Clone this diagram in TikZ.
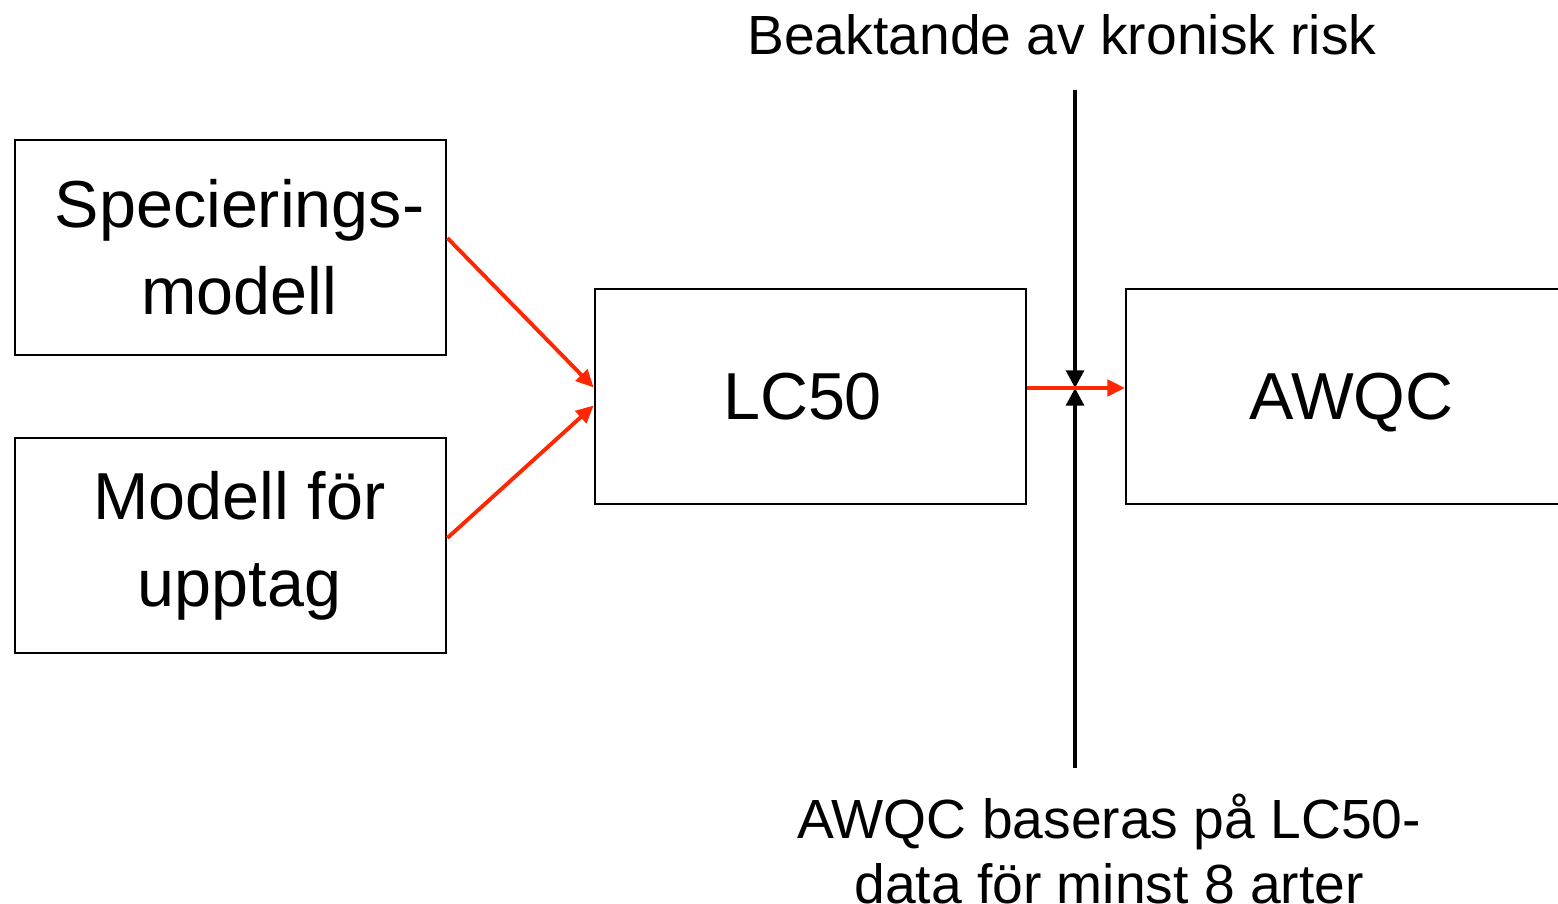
\documentclass[tikz,border=0pt]{standalone}
\usepackage{fontspec}
\setmainfont{Liberation Sans}
\usetikzlibrary{arrows.meta}
\definecolor{flowred}{RGB}{255,38,0}
\begin{document}
\begin{tikzpicture}[x=0.01cm,y=-0.01cm,
  box/.style={draw,line width=0.7pt,minimum width=4.31cm,minimum height=2.15cm,
    inner sep=0pt,align=center,font=\fontsize{18.9}{24.8}\selectfont},
  redarrow/.style={flowred,line width=1.1pt,-{Triangle[length=5pt,width=4.6pt]}},
  blackarrow/.style={black,line width=1.1pt,-{Triangle[length=5pt,width=5pt]}},
  note/.style={align=center,font=\fontsize{15.7}{18.3}\selectfont}]
\useasboundingbox (0,0) rectangle (1558,904);
% boxes
\node[box] (spec) at (230.5,247.5) {\hspace*{0.18cm}Specierings-\\\hspace*{0.18cm}modell};
\node[box] (upt) at (230.5,545.5) {\hspace*{0.18cm}Modell för\\\hspace*{0.18cm}upptag};
\node[box] (lc) at (810.5,396.5) {\hspace*{-0.16cm}LC50};
\node[box,minimum width=4.5cm,anchor=west,text depth=0pt] (awqc) at (1125,396.5) {AWQC};
% labels
\node[note] (top) at (1062,35) {Beaktande av kronisk risk};
\node[note] (bot) at (1109,849) {AWQC baseras på LC50-\\data för minst 8 arter};
% vertical marker
\coordinate (vtop) at (1075,90);
\coordinate (vbot) at (1075,768);
\coordinate (vmid) at (1075,388);
\draw[blackarrow] (vtop) -- (vmid);
\draw[blackarrow] (vbot) -- (vmid);
% flows
\draw[redarrow] ([yshift=0.095cm]spec.east) -- ([yshift=0.09cm]lc.west);
\draw[redarrow] ([yshift=0.075cm]upt.east) -- ([yshift=-0.09cm]lc.west);
\draw[redarrow] (lc.east |- vmid) -- (awqc.west |- vmid);
\end{tikzpicture}
\end{document}
